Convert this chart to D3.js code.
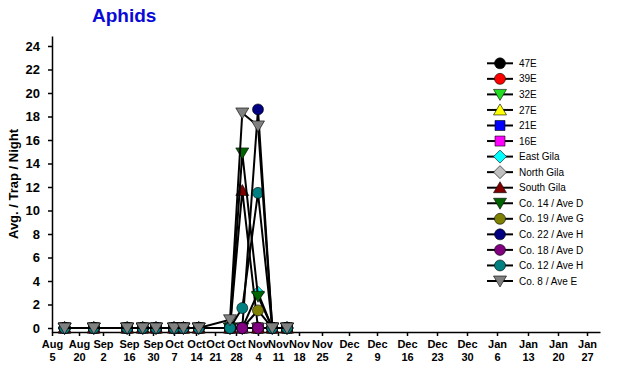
<!DOCTYPE html>
<html>
<head>
<meta charset="utf-8">
<script src="https://cdn.jsdelivr.net/npm/d3@7"></script>
<style>
  body { margin: 0; background: #fff; }
  svg { display: block; font-family: Arial, "Liberation Sans", sans-serif; }
</style>
</head>
<body>
<div id="app"></div>
<script>
// ---- data ----
const sampleDates = ["2012-08-12", "2012-08-28", "2012-09-15", "2012-09-24", "2012-10-01", "2012-10-07",
  "2012-10-10", "2012-10-15", "2012-10-26", "2012-10-30", "2012-11-04", "2012-11-09", "2012-11-14"];

const seriesNames = ["47E", "39E", "32E", "27E", "21E", "16E", "East Gila", "North Gila", "South Gila",
  "Co. 14 / Ave D", "Co. 19 / Ave G", "Co. 22 / Ave H", "Co. 18 / Ave D", "Co. 12 / Ave H", "Co. 8 / Ave E"];

const v47E       = [0, 0, 0, 0, 0, 0, 0, 0, 0, 0, 0, 0, 0];
const v39E       = [0, 0, 0, 0, 0, 0, 0, 0, 0, 0, 0, 0, 0];
const v32E       = [0, 0, 0, 0, 0, 0, 0, 0, 0, 0, 0, 0, 0];
const v27E       = [0, 0, 0, 0, 0, 0, 0, 0, 0, 0, 0, 0, 0];
const v21E       = [0, 0, 0, 0, 0, 0, 0, 0, 0, 0, 0, 0, 0];
const v16E       = [0, 0, 0, 0, 0, 0, 0, 0, 0, 0, 0, 0, 0];
const vEastGila  = [0, 0, 0, 0, 0, 0, 0, 0, 0, 0, 3.0, 0, 0];
const vNorthGila = [0, 0, 0, 0, 0, 0, 0, 0, 0, 0, 0, 0, 0];
const vSouthGila = [0, 0, 0, 0, 0, 0, 0, 0, 0, 11.7, 0, 0, 0];
const vCo14      = [0, 0, 0, 0, 0, 0, 0, 0, 0, 14.9, 2.7, 0, 0];
const vCo19      = [0, 0, 0, 0, 0, 0, 0, 0, 0, 0, 1.5, 0, 0];
const vCo22      = [0, 0, 0, 0, 0, 0, 0, 0, 0, 0, 18.6, 0, 0];
const vCo18      = [0, 0, 0, 0, 0, 0, 0, 0, 0, 0, 0, 0, 0];
const vCo12      = [0, 0, 0, 0, 0, 0, 0, 0, 0, 1.7, 11.5, 0, 0];
const vCo8       = [0, 0, 0, 0, 0, 0, 0, 0, 0.7, 18.3, 17.2, 0, 0];

const seriesValues = [v47E, v39E, v32E, v27E, v21E, v16E, vEastGila, vNorthGila, vSouthGila,
  vCo14, vCo19, vCo22, vCo18, vCo12, vCo8];

const tickDates = ["2012-08-05", "2012-08-20", "2012-09-02", "2012-09-16", "2012-09-30", "2012-10-07",
  "2012-10-14", "2012-10-21", "2012-10-28", "2012-11-04", "2012-11-11", "2012-11-18", "2012-11-25",
  "2012-12-02", "2012-12-09", "2012-12-16", "2012-12-23", "2012-12-30", "2013-01-06", "2013-01-13",
  "2013-01-20", "2013-01-27"];
const tickLabels = [["Aug", "5"], ["Aug", "20"], ["Sep", "2"], ["Sep", "16"], ["Sep", "30"], ["Oct", "7"],
  ["Oct", "14"], ["Oct", "21"], ["Oct", "28"], ["Nov", "4"], ["Nov", "11"], ["Nov", "18"], ["Nov", "25"],
  ["Dec", "2"], ["Dec", "9"], ["Dec", "16"], ["Dec", "23"], ["Dec", "30"], ["Jan", "6"], ["Jan", "13"],
  ["Jan", "20"], ["Jan", "27"]];
const yTicks = [0, 2, 4, 6, 8, 10, 12, 14, 16, 18, 20, 22, 24];

// ---- layout / style ----
const W = 625, H = 380;
// the date axis is not even: each tick date gets its own place, the scale interpolates between them
const AXIS_END_DATE = "2013-01-30";
const X_POS = [52, 79, 103, 129, 153, 174, 196, 215, 236, 258, 278, 299, 322,
  349, 377, 407, 437, 467, 497, 528, 558, 587, 600];
const Y_RANGE = [332, 36];
const Y_DOMAIN = [-0.34, 24.85];

const styles = [
  { fill: "#000000", shape: "circle" },
  { fill: "#ff0000", shape: "circle" },
  { fill: "#22dd22", shape: "triDown" },
  { fill: "#ffff00", shape: "triUp" },
  { fill: "#0000ff", shape: "square" },
  { fill: "#ff00ff", shape: "square" },
  { fill: "#00ffff", shape: "diamond" },
  { fill: "#c0c0c0", shape: "diamond" },
  { fill: "#800000", shape: "triUp" },
  { fill: "#006400", shape: "triDown" },
  { fill: "#808000", shape: "circle" },
  { fill: "#000080", shape: "circle" },
  { fill: "#800080", shape: "circle" },
  { fill: "#008080", shape: "circle" },
  { fill: "#808080", shape: "triDown" }
];

function markerPath(shape) {
  if (shape === "circle") return d3.symbol(d3.symbolCircle, 95)();
  if (shape === "square") return d3.symbol(d3.symbolSquare, 100)();
  if (shape === "diamond") return "M0,-6.5L6.5,0L0,6.5L-6.5,0Z";
  if (shape === "triUp") return "M0,-6L6.5,5L-6.5,5Z";
  return "M0,6L6.5,-5L-6.5,-5Z";
}

const parse = d3.timeParse("%Y-%m-%d");

const svg = d3.select("#app").append("svg")
  .attr("width", W).attr("height", H);

// piecewise time scale
const x = d3.scaleTime()
  .domain(tickDates.concat([AXIS_END_DATE]).map(parse))
  .range(X_POS);

const y = d3.scaleLinear().domain(Y_DOMAIN).range(Y_RANGE);

// title
svg.append("text")
  .attr("x", 92).attr("y", 21.5)
  .attr("font-size", 19).attr("font-weight", "bold")
  .attr("fill", "#0a0ad8")
  .text("Aphids");

// y axis
const yAxis = svg.append("g")
  .attr("transform", `translate(${X_POS[0]},0)`)
  .call(d3.axisLeft(y).tickValues(yTicks).tickSize(4).tickSizeOuter(0).tickPadding(8));
yAxis.selectAll("text").attr("font-size", 13).attr("font-weight", "bold").attr("fill", "#000")
  .attr("font-family", "Arial, 'Liberation Sans', sans-serif");
yAxis.selectAll("path, line").attr("stroke", "#000").attr("stroke-width", 1.5);

svg.append("text")
  .attr("transform", "translate(18,184) rotate(-90)")
  .attr("text-anchor", "middle")
  .attr("font-size", 13).attr("font-weight", "bold")
  .text("Avg. / Trap / Night");

// x axis
const xAxis = svg.append("g")
  .attr("transform", `translate(0,${Y_RANGE[0]})`)
  .call(d3.axisBottom(x).tickValues(tickDates.map(parse)).tickSize(4).tickSizeOuter(0).tickFormat(""));
xAxis.selectAll("path, line").attr("stroke", "#000").attr("stroke-width", 1.5);

xAxis.selectAll(".tick").each(function (d, i) {
  const t = d3.select(this).append("text")
    .attr("text-anchor", "middle")
    .attr("font-size", 11).attr("font-weight", "bold")
    .attr("fill", "#000")
    .attr("font-family", "Arial, 'Liberation Sans', sans-serif");
  t.append("tspan").attr("x", 0).attr("y", 16).text(tickLabels[i][0]);
  t.append("tspan").attr("x", 0).attr("y", 29).text(tickLabels[i][1]);
});

// lines + markers, legend order so the last series is on top
const line = d3.line()
  .x((d) => x(d.date))
  .y((d) => y(d.value));

const series = seriesNames.map((name, i) => ({
  name: name,
  style: styles[i],
  points: sampleDates.map((s, j) => ({ date: parse(s), value: seriesValues[i][j] }))
}));

const plot = svg.append("g").attr("class", "plot");
series.forEach((s) => {
  const g = plot.append("g");
  g.append("path")
    .datum(s.points)
    .attr("d", line)
    .attr("fill", "none")
    .attr("stroke", "#000")
    .attr("stroke-width", 2);
  g.selectAll("path.mk")
    .data(s.points)
    .enter()
    .append("path")
    .attr("class", "mk")
    .attr("transform", (d) => `translate(${x(d.date)},${y(d.value)})`)
    .attr("d", markerPath(s.style.shape))
    .attr("fill", s.style.fill)
    .attr("stroke", "#000")
    .attr("stroke-width", 0.6);
});

// legend
const legend = svg.append("g").attr("transform", "translate(487,63.3)");
const rows = legend.selectAll("g")
  .data(series)
  .enter()
  .append("g")
  .attr("transform", (d, i) => `translate(0,${i * 15.55})`);
rows.append("line")
  .attr("x1", 0).attr("x2", 26)
  .attr("stroke", "#000").attr("stroke-width", 2);
rows.append("path")
  .attr("transform", "translate(13,0)")
  .attr("d", (d) => markerPath(d.style.shape))
  .attr("fill", (d) => d.style.fill)
  .attr("stroke", "#000")
  .attr("stroke-width", 0.6);
rows.append("text")
  .attr("x", 32).attr("y", 3.6)
  .attr("font-size", 10)
  .text((d) => d.name);
</script>
</body>
</html>
